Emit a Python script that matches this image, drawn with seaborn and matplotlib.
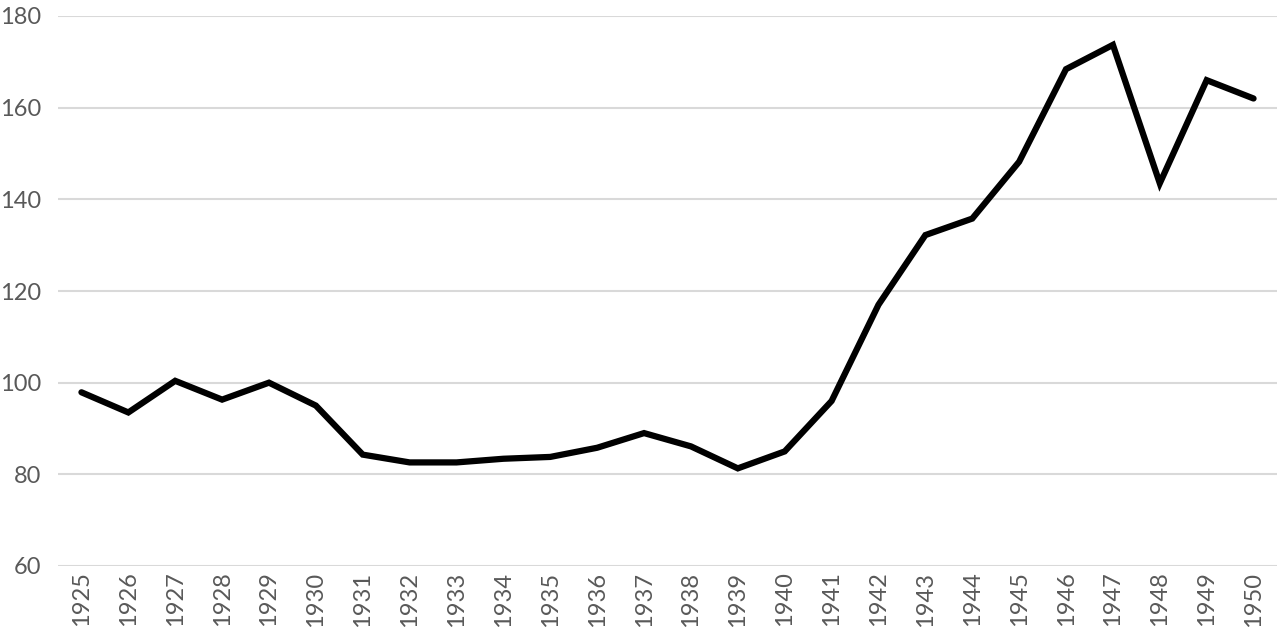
import matplotlib
matplotlib.use('Agg')
import matplotlib.pyplot as plt
import seaborn as sns
import pandas as pd

years = list(range(1925, 1951))
values = [97.9, 93.5, 100.4, 96.3, 100.0, 95.0, 84.3, 82.6, 82.6, 83.4, 83.8, 85.8,
          89.0, 86.1, 81.3, 85.0, 96.0, 117.0, 132.2, 135.8, 148.2, 168.4, 173.7,
          143.5, 166.0, 162.0]

df = pd.DataFrame({'year': years, 'value': values})

sns.set_theme(style='white')
plt.rcParams['font.family'] = ['Lato', 'DejaVu Sans']

fig = plt.figure(figsize=(12.79, 6.42), dpi=100)
ax = fig.add_axes([58/1279, 1-566/642, 1219/1279, 550/642])

sns.lineplot(data=df, x='year', y='value', ax=ax, color='black', linewidth=4.5,
             solid_joinstyle='miter')

ax.set_ylim(60, 180)
ax.set_xlim(1924.5, 1950.5)
ax.set_yticks(range(60, 181, 20))
ax.set_xticks(years)
ax.set_xticklabels([str(y) for y in years], rotation=90)
ax.grid(axis='y', color='#d9d9d9', linewidth=1.5)
ax.set_axisbelow(True)
for s in ax.spines.values():
    s.set_visible(False)
ax.tick_params(axis='both', length=0, labelsize=17, colors='#595959')
ax.tick_params(axis='y', pad=12)
ax.tick_params(axis='x', pad=4)
ax.set_xlabel('')
ax.set_ylabel('')

fig.savefig('out.png', dpi=100)
